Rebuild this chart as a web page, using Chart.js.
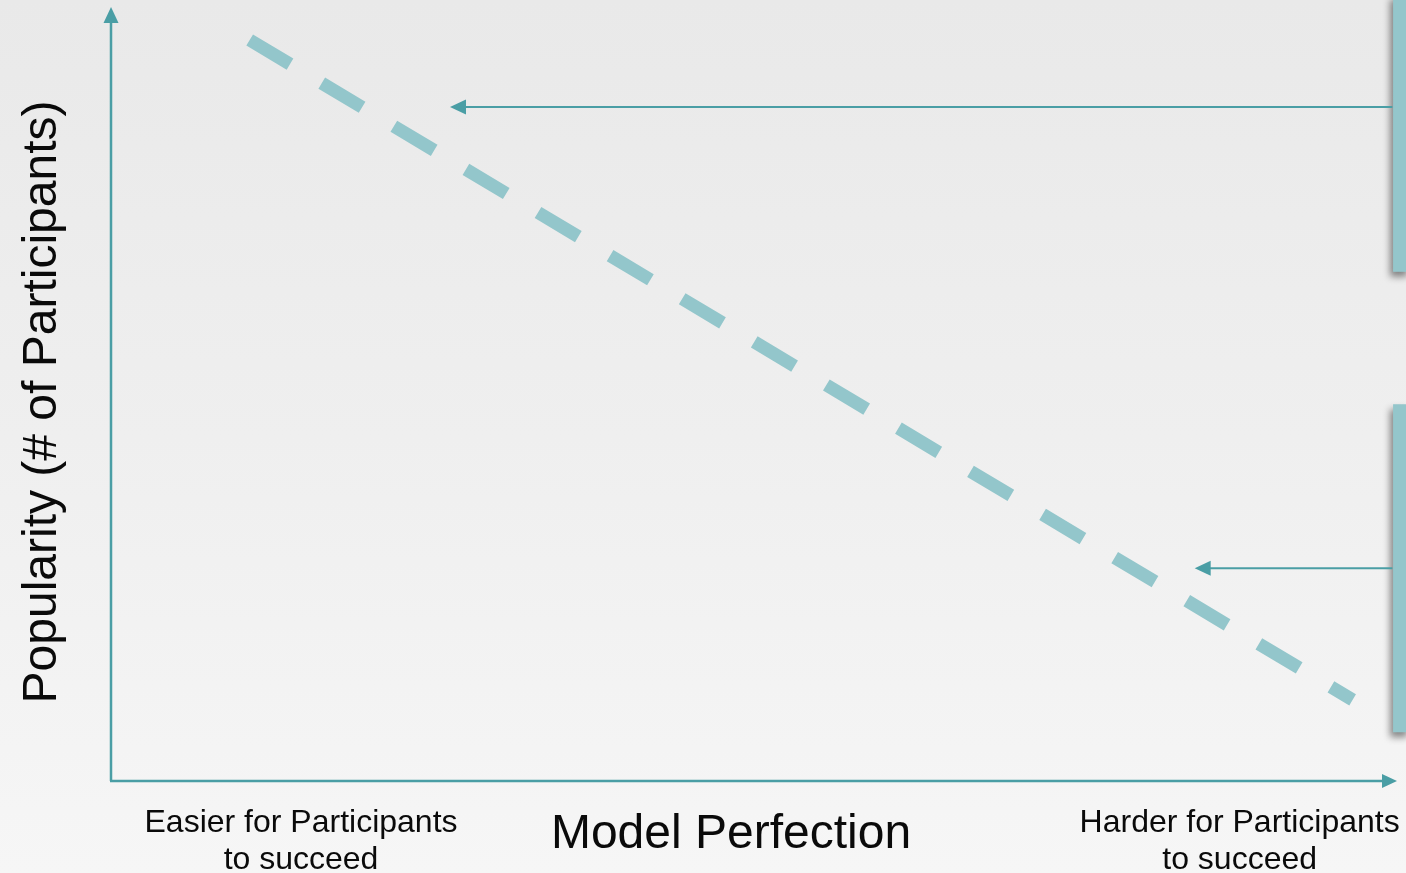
<!DOCTYPE html>
<html>
<head>
<meta charset="utf-8">
<script src="https://cdn.jsdelivr.net/npm/chart.js@4"></script>
<style>
  html, body { margin: 0; padding: 0; }
  body { width: 1406px; height: 873px; overflow: hidden;
         background: linear-gradient(to bottom, #e9e9e9 0%, #efefef 50%, #f6f6f6 100%); }
  #wrap { position: relative; width: 1406px; height: 873px; }
</style>
</head>
<body>
<div id="wrap"><canvas id="c"></canvas></div>
<script>
// ---- data (axis units 0–100) ----
const trendX = [10.8, 96.7];
const trendY = [96.1, 10.4];

// callout arrows: [fromX, toX, y]
const arrowFromX = [99.8, 99.8];
const arrowToX   = [26.4, 84.4];
const arrowY     = [87.4, 27.5];

// callout boxes: [x0, x1, yTop, yBottom]
const boxX0 = [99.85, 99.85];
const boxX1 = [101.2, 101.2];
const boxYTop = [102, 48.8];
const boxYBottom = [66.0, 6.2];

const xTitle = "Model Perfection";
const yTitle = "Popularity (# of Participants)";
const xLowLabel = ["Easier for Participants", "to succeed"];
const xHighLabel = ["Harder for Participants", "to succeed"];
const xLowPos = 14.8;   // axis units for label centre
const xHighPos = 87.9;

const AXIS_COLOR = '#4a9ea5';
const LINE_COLOR = '#93c6cb';
const BOX_COLOR = '#94c6cb';
const FONT = '"Liberation Sans", Arial, sans-serif';

function arrowHead(ctx, tipX, tipY, dir, len, half) {
  ctx.beginPath();
  if (dir === 'up') {
    ctx.moveTo(tipX, tipY); ctx.lineTo(tipX - half, tipY + len); ctx.lineTo(tipX + half, tipY + len);
  } else if (dir === 'right') {
    ctx.moveTo(tipX, tipY); ctx.lineTo(tipX - len, tipY - half); ctx.lineTo(tipX - len, tipY + half);
  } else {
    ctx.moveTo(tipX, tipY); ctx.lineTo(tipX + len, tipY - half); ctx.lineTo(tipX + len, tipY + half);
  }
  ctx.closePath(); ctx.fill();
}

const decor = {
  id: 'decor',
  beforeDatasetsDraw(chart) {
    const {ctx, chartArea: a, scales: {x, y}} = chart;
    ctx.save();
    // boxes
    for (let i = 0; i < boxX0.length; i++) {
      const x0 = x.getPixelForValue(boxX0[i]), x1 = x.getPixelForValue(boxX1[i]);
      const y0 = y.getPixelForValue(boxYTop[i]), y1 = y.getPixelForValue(boxYBottom[i]);
      ctx.save();
      ctx.shadowColor = 'rgba(0,0,0,0.45)';
      ctx.shadowBlur = 7; ctx.shadowOffsetX = -3; ctx.shadowOffsetY = 5;
      ctx.fillStyle = BOX_COLOR;
      ctx.fillRect(x0, y0, x1 - x0, y1 - y0);
      ctx.restore();
    }
    // axes
    ctx.strokeStyle = AXIS_COLOR; ctx.fillStyle = AXIS_COLOR; ctx.lineWidth = 2.5;
    const ox = a.left, oy = a.bottom + 1;
    ctx.beginPath(); ctx.moveTo(ox, oy); ctx.lineTo(ox, a.top + 10); ctx.stroke();
    arrowHead(ctx, ox, a.top - 3, 'up', 16, 7.5);
    ctx.beginPath(); ctx.moveTo(ox - 1, oy); ctx.lineTo(a.right - 10, oy); ctx.stroke();
    arrowHead(ctx, a.right + 2, oy, 'right', 15, 7);
    // callout arrows
    ctx.lineWidth = 2;
    for (let i = 0; i < arrowY.length; i++) {
      const fx = x.getPixelForValue(arrowFromX[i]), tx = x.getPixelForValue(arrowToX[i]);
      const py = y.getPixelForValue(arrowY[i]);
      ctx.beginPath(); ctx.moveTo(fx, py); ctx.lineTo(tx + 10, py); ctx.stroke();
      arrowHead(ctx, tx, py, 'left', 16, 7.5);
    }
    ctx.restore();
  },
  afterDraw(chart) {
    const {ctx, chartArea: a, scales: {x, y}} = chart;
    ctx.save();
    ctx.fillStyle = '#0a0a0a';
    ctx.textAlign = 'center';
    ctx.textBaseline = 'alphabetic';
    // x title
    ctx.font = '48px ' + FONT;
    ctx.fillText(xTitle, 731, 848);
    // y title
    ctx.save();
    ctx.translate(56, 402);
    ctx.rotate(-Math.PI / 2);
    ctx.fillText(yTitle, 0, 0);
    ctx.restore();
    // end labels
    ctx.font = '32px ' + FONT;
    const lx = x.getPixelForValue(xLowPos), hx = x.getPixelForValue(xHighPos);
    ctx.fillText(xLowLabel[0], lx, 832);
    ctx.fillText(xLowLabel[1], lx, 869);
    ctx.fillText(xHighLabel[0], hx, 832);
    ctx.fillText(xHighLabel[1], hx, 869);
    ctx.restore();
  }
};

new Chart(document.getElementById('c'), {
  type: 'line',
  data: {
    datasets: [{
      data: trendX.map((v, i) => ({x: v, y: trendY[i]})),
      borderColor: LINE_COLOR,
      borderWidth: 13,
      borderDash: [47, 37],
      borderCapStyle: 'butt',
      pointRadius: 0,
      tension: 0,
      fill: false
    }]
  },
  options: {
    responsive: true,
    maintainAspectRatio: false,
    animation: false,
    layout: { padding: { left: 111, right: 11, top: 10, bottom: 93 } },
    plugins: { legend: { display: false }, tooltip: { enabled: false } },
    scales: {
      x: { type: 'linear', min: 0, max: 100, display: false },
      y: { type: 'linear', min: 0, max: 100, display: false }
    }
  },
  plugins: [decor]
});
</script>
</body>
</html>
